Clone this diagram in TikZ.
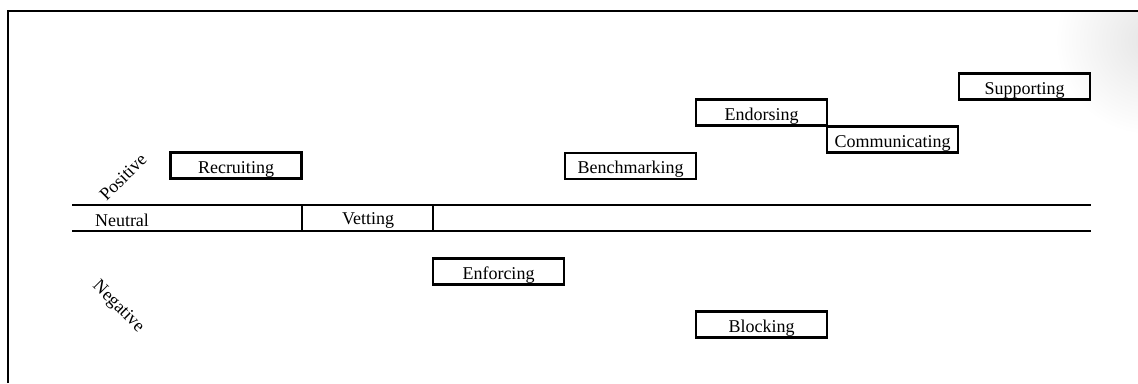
\documentclass[tikz,border=0pt]{standalone}
\usepackage{fontspec}
\setmainfont{Liberation Serif}
\begin{document}
\begin{tikzpicture}[x=1pt,y=-1pt,
  frameline/.style={line width=1.6pt,black},
  bandline/.style={line width=2.1pt,black},
  actbox/.style={draw,line width=2.2pt,minimum width=131pt,minimum height=26pt,inner sep=0pt,text height=17pt,text depth=2pt,font=\fontsize{18}{20}\selectfont},
  lbl/.style={inner sep=0pt,font=\fontsize{18}{20}\selectfont}]
\useasboundingbox (0,0) rectangle (1138,383);
\fill[white] (0,0) rectangle (1138,383);
% soft shadow at top right
\begin{scope}
\clip (1000,12.5) rectangle (1138,140);
\shade[inner color=black!10,outer color=white] (1150,40) circle (95);
\end{scope}
% frame
\draw[frameline] (8,383) -- (8,11) -- (1138,11);
% neutral band
\coordinate (bl) at (72,205);
\coordinate (br) at (1091,205);
\coordinate (cl) at (72,231);
\coordinate (cr) at (1091,231);
\coordinate (v1t) at (302,205);
\coordinate (v1b) at (302,231);
\coordinate (v2t) at (433,205);
\coordinate (v2b) at (433,231);
\draw[bandline] (bl) -- (br);
\draw[bandline] (cl) -- (cr);
\draw[bandline] (v1t) -- (v1b);
\draw[bandline] (v2t) -- (v2b);
\node[lbl] (neutral) at (122,220.5) {Neutral};
\node[lbl] (vetting) at (368,220.5) {Vetting};
% axis labels
\node[lbl,rotate=45] (positive) at (123,177) {Positive};
\node[lbl,rotate=-45] (negative) at (118,307) {Negative};
% boxes
\node[actbox] (recruiting) at (236,165.5) {Recruiting};
\node[actbox] (benchmarking) at (630.5,166) {Benchmarking};
\node[actbox] (endorsing) at (761.5,112.5) {Endorsing};
\node[actbox] (communicating) at (892.5,139.5) {Communicating};
\node[actbox] (supporting) at (1024.5,86.5) {Supporting};
\node[actbox] (enforcing) at (498.5,271.5) {Enforcing};
\node[actbox] (blocking) at (761.5,324.5) {Blocking};
\end{tikzpicture}
\end{document}
